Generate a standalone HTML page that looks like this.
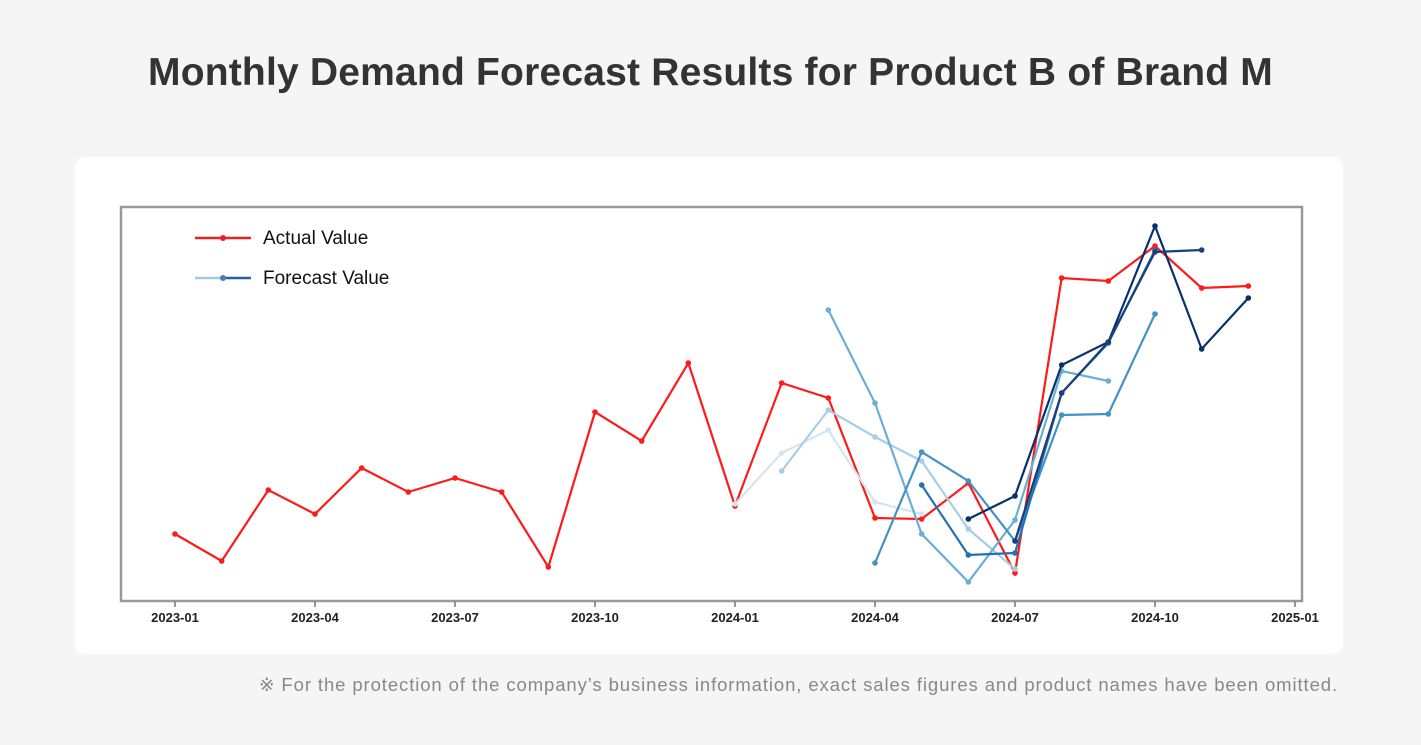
<!DOCTYPE html>
<html><head><meta charset="utf-8"><style>
body{margin:0;width:1421px;height:745px;background:#f5f5f5;font-family:"Liberation Sans",sans-serif;overflow:hidden;position:relative}
#title{position:absolute;top:51px;left:0;width:1421px;text-align:center;font-size:39px;font-weight:bold;color:#333;letter-spacing:0.2px}
#card{position:absolute;left:75px;top:157px;width:1268px;height:497px;background:#fff;border-radius:10px}
#note{position:absolute;right:83px;top:674px;font-size:18.5px;color:#888;letter-spacing:0.9px;white-space:nowrap}
svg{position:absolute;left:0;top:0}
</style></head><body>
<div id="title">Monthly Demand Forecast Results for Product B of Brand M</div>
<div id="card"></div>
<svg id="chart" width="1421" height="745"></svg>
<div id="note">※ For the protection of the company’s business information, exact sales figures and product names have been omitted.</div>
<script>
const tickLabels=["2023-01","2023-04","2023-07","2023-10","2024-01","2024-04","2024-07","2024-10","2025-01"];
const tickMonths=[0,3,6,9,12,15,18,21,24];
const actualValues=[64,37,108,84,130,106,120,106,31,186,157,235,92,215,200,80,79,115,25,320,317,352,310,312];
const fcStarts=[12,13,14,15,16,17,18];
const fc0=[94,145,168,96,84];
const fc1=[127,188,161,137,69,29];
const fc2=[288,195,64,16,78,227,217];
const fc3=[35,146,117,57,183,184,284];
const fc4=[113,43,45,205,255,348];
const fc5=[79,102,233,256,372,249,300];
const fc6=[57,205,256,346,348];
const fcSeries=[fc0,fc1,fc2,fc3,fc4,fc5,fc6];
const fcColors=["#d4e4f2","#a9cde5","#6baed6","#4292c6","#2171b5","#08306b","#1b3f78"];
const svg=document.getElementById('chart');const NS='http://www.w3.org/2000/svg';
const X=m=>175+m*(1295-175)/24;
const Y=v=>598-v;
function mk(t,a){const e=document.createElementNS(NS,t);for(const k in a)e.setAttribute(k,a[k]);svg.appendChild(e);return e;}
const frame=mk('rect',{x:121,y:207,width:1181,height:394,fill:'#fff',stroke:'#999','stroke-width':2.5});


tickMonths.forEach((m,i)=>{
 const t=mk('line',{x1:X(m),x2:X(m),y1:602,y2:607,stroke:'#333','stroke-width':1});
 
 
 const l=mk('text',{x:X(m),y:622,'text-anchor':'middle','font-size':13,'font-weight':'bold',fill:'#222'});
 l.textContent=tickLabels[i];
 
 
});
function series(vals,start,color,name){
 const pts=vals.map((v,i)=>X(start+i)+','+Y(v)).join(' ');
 const p=mk('polyline',{points:pts,fill:'none',stroke:color,'stroke-width':2.2});
 
 
 vals.forEach((v,i)=>{const c=mk('circle',{cx:X(start+i),cy:Y(v),r:2.8,fill:color});
  
  });
}
series(actualValues,0,'#ff1a1a','actual');
fcSeries.forEach((s,i)=>series(s,fcStarts[i],fcColors[i],'forecast-'+i));
const lg1=mk('line',{x1:195,x2:251,y1:238,y2:238,stroke:'#e52222','stroke-width':2.5});


mk('circle',{cx:223,cy:238,r:3,fill:'#e52222'});
const lt1=mk('text',{x:263,y:244,'font-size':19,fill:'#111'});lt1.textContent='Actual Value';


const lg2=mk('line',{x1:195,x2:223,y1:278,y2:278,stroke:'#9ecae1','stroke-width':2.5});


mk('line',{x1:223,x2:251,y1:278,y2:278,stroke:'#2f5f97','stroke-width':2.5});
mk('circle',{cx:223,cy:278,r:3,fill:'#4a7fb5'});
const lt2=mk('text',{x:263,y:284,'font-size':19,fill:'#111'});lt2.textContent='Forecast Value';


</script>
</body></html>
